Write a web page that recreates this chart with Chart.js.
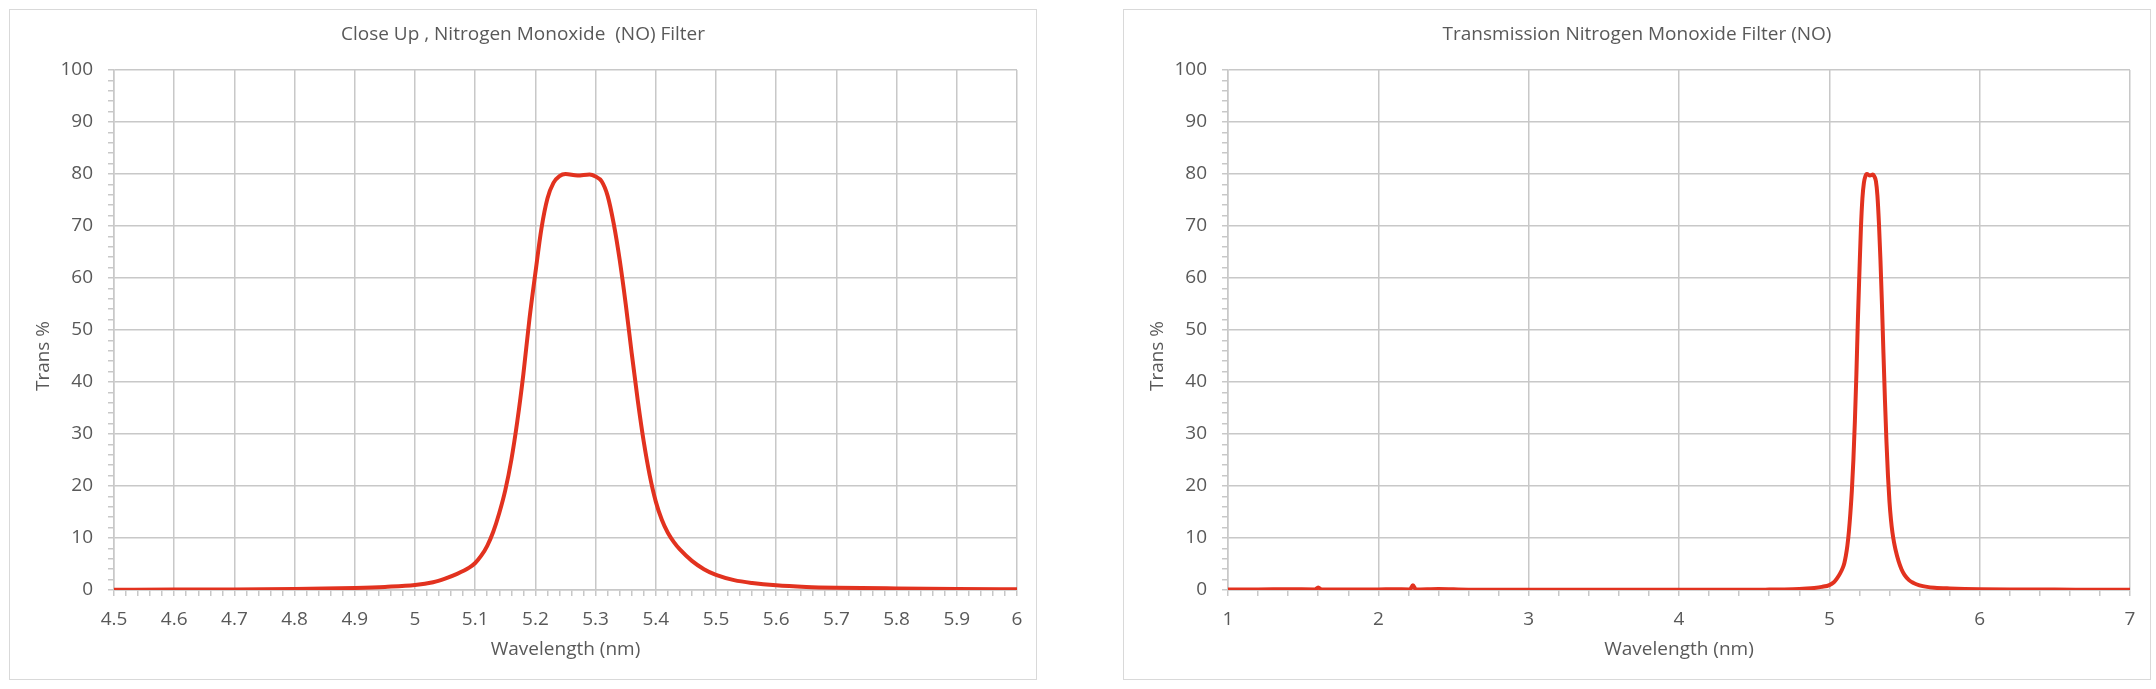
<!DOCTYPE html>
<html><head><meta charset="utf-8">
<script src="https://cdn.jsdelivr.net/npm/chart.js@4.4.0/dist/chart.umd.min.js"></script>
<style>
html,body{margin:0;padding:0;background:#fff;width:2156px;height:689px;overflow:hidden}
.box{position:absolute;top:9px;width:1026px;height:669px;border:1px solid #d9d9d9;background:#fff}
canvas{position:absolute;left:0;top:0}
</style></head><body>
<div class="box" style="left:9px"><canvas id="c1" width="1026" height="669"></canvas></div>
<div class="box" style="left:1123px"><canvas id="c2" width="1026" height="669"></canvas></div>
<script>
// ---- data ----
const closeUpTitle = 'Close Up , Nitrogen Monoxide  (NO) Filter';
const wideTitle = 'Transmission Nitrogen Monoxide Filter (NO)';
const xAxisLabel = 'Wavelength (nm)';
const yAxisLabel = 'Trans %';

// Close-up band (nm, %)
const closeUpWavelength = [4.50,4.60,4.70,4.80,4.85,4.90,4.95,5.00,5.03,5.05,5.07,5.09,5.10,5.11,5.12,5.13,5.14,5.15,5.16,5.17,5.18,5.19,5.20,5.21,5.22,5.23,5.24,5.25,5.27,5.29,5.30,5.31,5.32,5.33,5.34,5.35,5.36,5.37,5.38,5.39,5.40,5.41,5.42,5.43,5.44,5.46,5.48,5.50,5.53,5.56,5.60,5.65,5.70,5.80,5.90,6.00];
const closeUpTrans      = [0.05,0.08,0.12,0.20,0.28,0.40,0.60,0.95,1.5,2.2,3.1,4.3,5.2,6.6,8.5,11.2,14.8,19.2,25,32.5,41.5,52,61,69.5,75.3,78.3,79.6,80,79.7,79.9,79.5,78.6,75.8,70.5,63.5,55,45.5,36.5,28.5,22,17,13.5,11,9.2,7.8,5.6,4.0,2.9,1.9,1.35,0.9,0.6,0.45,0.3,0.2,0.15];

// Wide range outside the close-up window (nm, %)
const wideLowWavelength = [1.0,1.2,1.4,1.58,1.60,1.62,1.8,2.0,2.1,2.21,2.23,2.25,2.4,2.6,3.0,3.5,4.0,4.3,4.4];
const wideLowTrans      = [0.1,0.1,0.15,0.1,0.5,0.1,0.1,0.1,0.15,0.1,0.9,0.1,0.2,0.05,0.05,0.05,0.05,0.05,0.05];
const wideHighWavelength = [6.2,6.5,6.8,7.0];
const wideHighTrans      = [0.1,0.08,0.06,0.05];

const yTicksMajor = 10, yTicksMinor = 2;

// ---- helpers ----
function pts(xs, ys){ return xs.map((x,i)=>({x:x, y:ys[i]})); }
const GRID = '#c8c8c8', TXT = '#595959', RED = '#E2321F';
const FONT = '"Open Sans", "DejaVu Sans", sans-serif';

const textPlugin = {
  id: 'textDraw',
  afterDraw(chart, args, opts){
    const ctx = chart.ctx;
    ctx.save();
    ctx.fillStyle = TXT;
    ctx.textAlign = 'center';
    ctx.textBaseline = 'middle';
    ctx.font = opts.titleSize + 'px ' + FONT;
    ctx.fillText(opts.title, chart.width/2, opts.titleY);
    ctx.font = opts.ySize + 'px ' + FONT;
    ctx.translate(opts.yX, opts.yY);
    ctx.rotate(-Math.PI/2);
    ctx.fillText(opts.yText, 0, 0);
    ctx.restore();
  }
};

function makeChart(id, data, xmin, xmax, xstep, xmajor, title, plotRight){
  const isMajor = (v, m) => Math.abs(v/m - Math.round(v/m)) < 1e-6;
  return new Chart(document.getElementById(id), {
    type: 'scatter',
    data: { datasets: [{ data: data, showLine: true, borderColor: RED, backgroundColor: RED,
      borderWidth: 4, pointRadius: 0, cubicInterpolationMode: 'monotone', fill: false }] },
    plugins: [textPlugin],
    options: {
      responsive: false, animation: false, devicePixelRatio: 1,
      layout: { padding: { top: 60, right: 1026 - plotRight, bottom: 0, left: 0 } },
      plugins: { legend: { display: false }, tooltip: { enabled: false }, title: { display: false },
        textDraw: { title: title, titleY: 25, titleSize: 19, yText: yAxisLabel, yX: 34, yY: 346, ySize: 19 } },
      scales: {
        x: {
          type: 'linear', min: xmin, max: xmax,
          afterFit: s => { s.height = 89; },
          ticks: { stepSize: xstep, autoSkip: false, maxRotation: 0, padding: 12, color: TXT,
            font: { family: FONT, size: 19 },
            callback: v => isMajor(v, xmajor) ? String(Math.round(v*10)/10) : '' },
          grid: { color: c => (c.tick && isMajor(c.tick.value, xmajor)) ? GRID : 'rgba(0,0,0,0)',
            tickColor: GRID, tickLength: 6, lineWidth: 1.5, drawTicks: true },
          border: { color: GRID, width: 1.5 },
          title: { display: true, text: xAxisLabel, color: TXT, font: { family: FONT, size: 19 },
            padding: { top: 0, bottom: 18 } }
        },
        y: {
          type: 'linear', min: 0, max: 100,
          afterFit: s => { s.width = 104; },
          ticks: { stepSize: yTicksMinor, autoSkip: false, padding: 15, color: TXT,
            font: { family: FONT, size: 19 },
            callback: v => isMajor(v, yTicksMajor) ? String(v) : '' },
          grid: { color: c => (c.tick && isMajor(c.tick.value, yTicksMajor)) ? GRID : 'rgba(0,0,0,0)',
            tickColor: GRID, tickLength: 6, lineWidth: 1.5 },
          border: { color: GRID, width: 1.5 },
          title: { display: false }
        }
      }
    }
  });
}

const closeUpData = pts(closeUpWavelength, closeUpTrans);
const wideData = pts(wideLowWavelength, wideLowTrans)
  .concat(pts(closeUpWavelength, closeUpTrans))
  .concat(pts(wideHighWavelength, wideHighTrans));

makeChart('c1', closeUpData, 4.5, 6, 0.02, 0.1, closeUpTitle, 1007);
makeChart('c2', wideData, 1, 7, 0.2, 1, wideTitle, 1006);
</script>
</body></html>
